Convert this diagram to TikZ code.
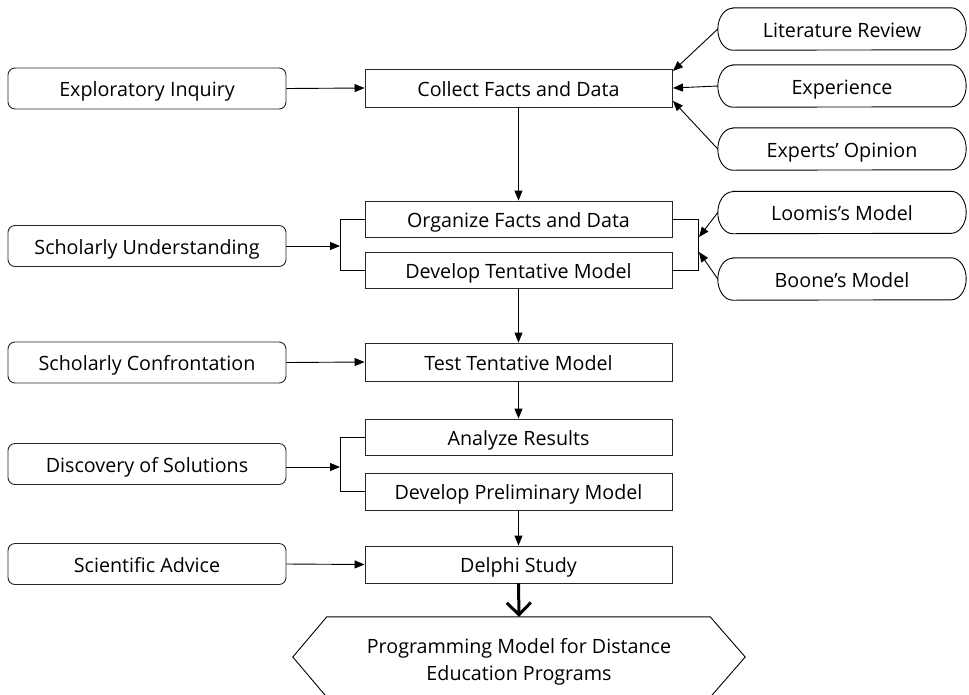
\documentclass[tikz,border=0pt]{standalone}
\usepackage{fontspec}
\setmainfont{Open Sans}
\usetikzlibrary{arrows.meta}
\begin{document}
\begin{tikzpicture}[x=1pt,y=1pt,
  every node/.style={font=\fontsize{19.7}{27}\selectfont, text=black, inner sep=0pt},
  tb/.style={text height=18pt, text depth=2pt},
  leftbox/.style={tb, draw=black!85, line width=0.9pt, rounded corners=7pt, minimum width=278pt, minimum height=41pt},
  mainbox/.style={tb, draw=black!85, line width=0.9pt, minimum width=307pt, minimum height=37pt},
  ovalbox/.style={tb, minimum width=248pt, minimum height=42pt},
  arr/.style={line width=0.9pt, -{Triangle[length=10pt,width=8pt]}},
  ln/.style={line width=0.9pt},
  thickarr/.style={line width=3pt, -{Straight Barb[length=12pt,width=24pt]}}
]
\useasboundingbox (0,0) rectangle (969,-694);
% left boxes
\node[leftbox] (expl) at (147,-88.5) {Exploratory Inquiry};
\node[leftbox] (schU) at (147,-246) {Scholarly Understanding};
\node[leftbox] (schC) at (147,-362.5) {Scholarly Confrontation};
\node[leftbox] (disc) at (147,-464) {Discovery of Solutions};
\node[leftbox] (sciA) at (147,-564) {Scientific Advice};
% main boxes
\node[mainbox, minimum height=38pt] (collect) at (518.5,-88) {Collect Facts and Data};
\node[mainbox, minimum height=36pt] (org) at (518.5,-219) {Organize Facts and Data};
\node[mainbox, minimum height=36pt] (devT) at (518.5,-270) {Develop Tentative Model};
\node[mainbox, minimum height=38pt] (test) at (518.5,-362) {Test Tentative Model};
\node[mainbox, minimum height=36pt] (anal) at (518.5,-437) {Analyze Results};
\node[mainbox, minimum height=37pt] (devP) at (518.5,-491.5) {Develop Preliminary Model};
\node[mainbox, minimum height=37pt] (delphi) at (518.5,-564.5) {Delphi Study};
% oval boxes
\node[ovalbox] (lit) at (842,-29) {Literature Review};
\node[ovalbox] (exper) at (842,-86) {Experience};
\node[ovalbox] (expop) at (842,-149) {Experts’ Opinion};
\node[ovalbox] (loomis) at (842,-212.5) {Loomis’s Model};
\node[ovalbox] (boone) at (842,-279) {Boone’s Model};
\foreach \n in {lit,exper,expop,loomis,boone}{
  \draw[ln] ([xshift=15pt]\n.north west) -- ([xshift=-15pt]\n.north east)
    arc[start angle=90,end angle=-90,x radius=15pt,y radius=21pt]
    -- ([xshift=15pt]\n.south west)
    arc[start angle=270,end angle=90,x radius=15pt,y radius=21pt] -- cycle;
}
% hexagon
\node[minimum width=452pt, minimum height=80pt] (hex) at (519,-657) {};
\node[align=center] (hextxt) at (519,-662) {Programming Model for Distance\\Education Programs};
\draw[ln] ([xshift=34pt]hex.north west) -- ([xshift=-35pt]hex.north east) -- (hex.east)
  -- ([xshift=-35pt]hex.south east) -- ([xshift=34pt]hex.south west) -- (hex.west) -- cycle;
% brackets
\draw[ln] (org.west) -- (340,-219) coordinate (lb1) -- (340,-270) coordinate (lb2) -- (devT.west);
\draw[ln] (org.east) -- (698,-219) coordinate (rb1) -- (698,-270) coordinate (rb2) -- (devT.east);
\draw[ln] (anal.west) -- (340,-437) coordinate (lb3) -- (340,-491.5) coordinate (lb4) -- (devP.west);
\coordinate (lbA) at (340,-246);
\coordinate (lbB) at (340,-467);
\coordinate (rbA) at (699,-237);
\coordinate (rbB) at (699,-252);
\coordinate (cA) at (673,-71);
\coordinate (cB) at (673,-88);
\coordinate (cC) at (673,-101);
% horizontal arrows
\draw[arr] (expl.east) -- (collect.west);
\draw[arr] (schU.east) -- (lbA);
\draw[arr] (schC.east) -- (test.west);
\draw[arr] (disc.east |- lbB) -- (lbB);
\draw[arr] (sciA.east) -- (delphi.west);
% right arrows
\draw[arr] (lit.west) -- (cA);
\draw[arr] (exper.west) -- (cB);
\draw[arr] (expop.west) -- (cC);
\draw[arr] (loomis.west) -- (rbA);
\draw[arr] (boone.west) -- (rbB);
% vertical arrows
\draw[arr] (collect.south) -- (org.north);
\draw[arr] (devT.south) -- (test.north);
\draw[arr] (test.south) -- (anal.north);
\draw[arr] (devP.south) -- (delphi.north);
\draw[thickarr] (delphi.south) -- (hex.north);
\end{tikzpicture}
\end{document}
